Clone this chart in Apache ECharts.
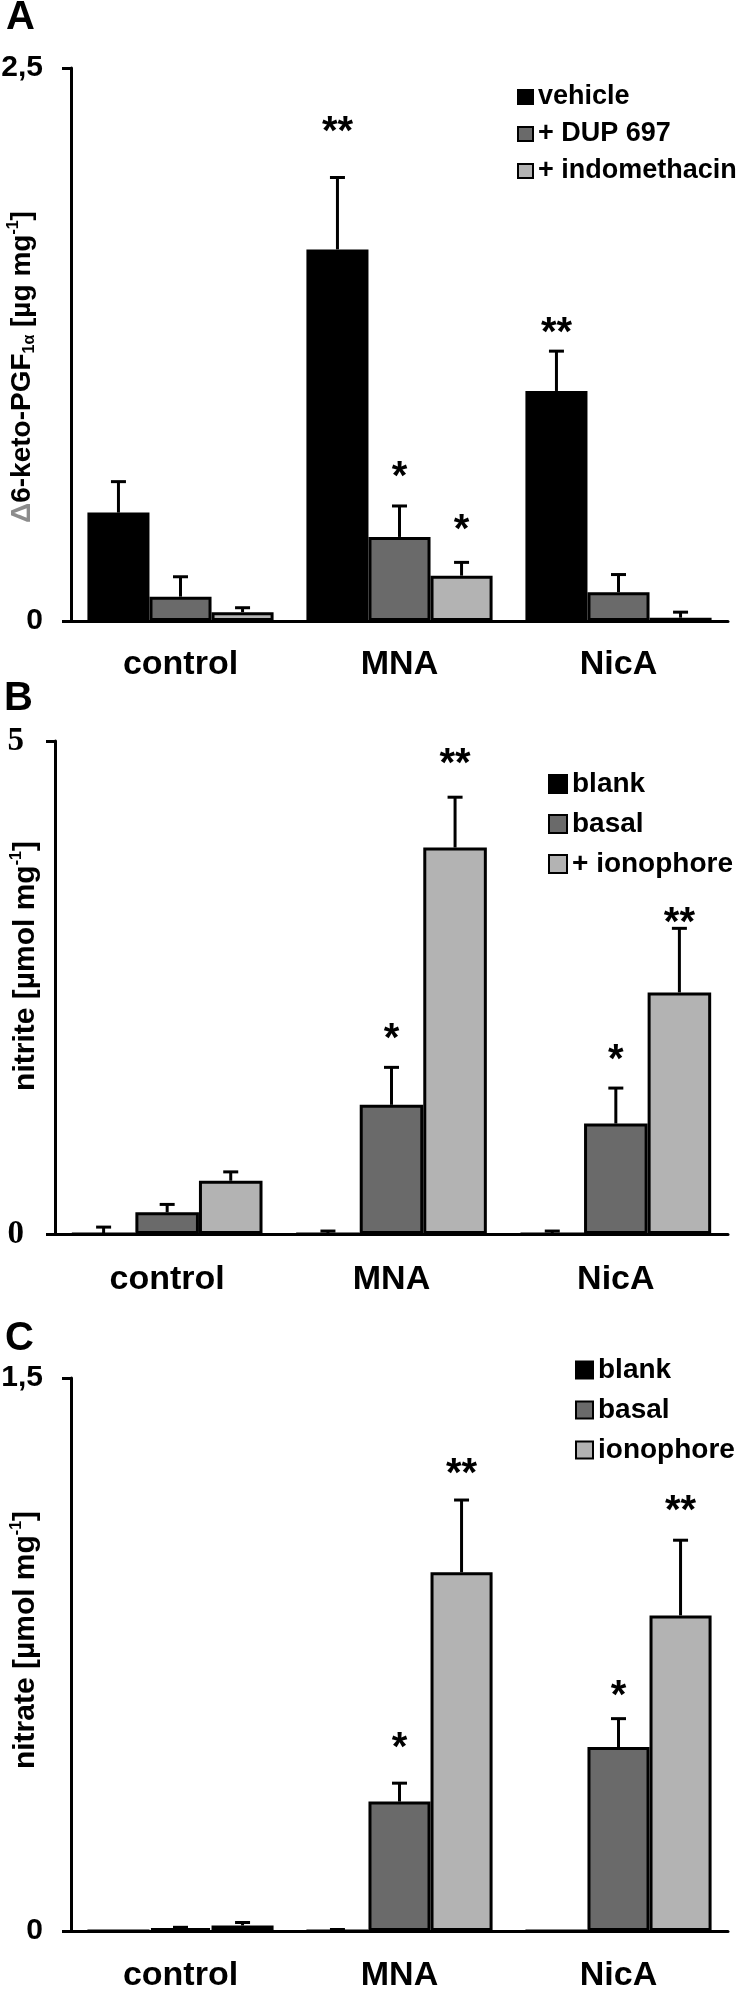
<!DOCTYPE html>
<html><head><meta charset="utf-8">
<script src="https://cdn.jsdelivr.net/npm/echarts@6/dist/echarts.min.js"></script>
<style>html,body{margin:0;padding:0;background:#fff}#c{width:752px;height:1992px}</style>
</head><body><div id="c"></div>
<script>
const categories = ['control', 'MNA', 'NicA'];

// Panel A: 6-keto-PGF1a
const aNames = ['vehicle', '+ DUP 697', '+ indomethacin'];
const aVehicle = [0.49, 1.68, 1.04];
const aVehicleErr = [0.14, 0.325, 0.18];
const aDup = [0.11, 0.38, 0.13];
const aDupErr = [0.09, 0.14, 0.08];
const aIndo = [0.04, 0.205, 0.015];
const aIndoErr = [0.02, 0.06, 0.025];
const aVehicleSig = ['', '**', '**'];
const aVehicleSigY = [0, 2.24, 1.33];
const aDupSig = ['', '*', ''];
const aDupSigY = [0, 0.68, 0];
const aIndoSig = ['', '*', ''];
const aIndoSigY = [0, 0.44, 0];
const aTicks = [0, 2.5];

// Panel B: nitrite
const bNames = ['blank', 'basal', '+ ionophore'];
const bBlank = [0, 0, 0];
const bBlankErr = [0.07, 0.03, 0.03];
const bBasal = [0.22, 1.31, 1.12];
const bBasalErr = [0.08, 0.38, 0.36];
const bIono = [0.54, 3.92, 2.45];
const bIonoErr = [0.09, 0.51, 0.65];
const bBasalSig = ['', '*', '*'];
const bBasalSigY = [0, 2.04, 1.83];
const bIonoSig = ['', '**', '**'];
const bIonoSigY = [0, 4.83, 3.22];
const bTicks = [0, 5];

// Panel C: nitrate
const cNames = ['blank', 'basal', 'ionophore'];
const cBlank = [0, 0, 0];
const cBlankErr = [0, 0.004, 0];
const cBasal = [0.008, 0.351, 0.499];
const cBasalErr = [0.002, 0.05, 0.077];
const cIono = [0.015, 0.973, 0.856];
const cIonoErr = [0.008, 0.196, 0.204];
const cBasalSig = ['', '*', '*'];
const cBasalSigY = [0, 0.512, 0.655];
const cIonoSig = ['', '**', '**'];
const cIonoSigY = [0, 1.255, 1.155];
const cTicks = [0, 1.5];

const BLACK = '#000000', DARK = '#6a6a6a', LIGHT = '#b3b3b3';
const GAP = 0.15;
const SANS = '"Liberation Sans", Arial, sans-serif';
const SERIF = '"Liberation Serif", "Times New Roman", serif';

function bar(name, data, color, ax) {
  return {
    type: 'bar', name, data, xAxisIndex: ax, yAxisIndex: ax,
    barGap: '0%', barCategoryGap: (GAP * 100) + '%',
    itemStyle: { color, borderColor: BLACK, borderWidth: 3 },
    emphasis: { disabled: true }, silent: true
  };
}

function err(idx, vals, errs, sigs, sigYs, ax) {
  return {
    type: 'custom', xAxisIndex: ax, yAxisIndex: ax, z: 10, silent: true,
    data: vals.map((v, i) => [i, v, errs[i]]),
    renderItem(params, api) {
      const i = params.dataIndex;
      const catW = api.size([1, 0])[0];
      const bw = catW * (1 - GAP) / 3;
      const cx = api.coord([i, 0])[0] + (idx - 1) * bw;
      const yTop = api.coord([i, vals[i]])[1];
      const yErr = api.coord([i, vals[i] + errs[i]])[1];
      const children = [];
      if (errs[i] > 0) {
        children.push({ type: 'line', shape: { x1: cx, y1: yTop, x2: cx, y2: yErr }, style: { stroke: BLACK, lineWidth: 3 } });
        children.push({ type: 'line', shape: { x1: cx - 7.5, y1: yErr, x2: cx + 7.5, y2: yErr }, style: { stroke: BLACK, lineWidth: 3 } });
      }
      if (sigs && sigs[i]) {
        const ys = api.coord([i, sigYs[i]])[1];
        children.push({ type: 'text', x: cx, y: ys + 7,
          style: { text: sigs[i], fill: BLACK, font: 'bold 40px ' + SANS, align: 'center', verticalAlign: 'middle' } });
      }
      return { type: 'group', children };
    }
  };
}

function xAxis(idx, margin) {
  return {
    type: 'category', gridIndex: idx, data: categories,
    axisLine: { lineStyle: { color: BLACK, width: 3 } },
    axisTick: { length: 10, lineStyle: { color: BLACK, width: 3 } },
    axisLabel: { color: BLACK, fontSize: 34, fontWeight: 'bold', fontFamily: SANS, margin }
  };
}
function yAxis(idx, ticks, family, size, margin) {
  return {
    type: 'value', gridIndex: idx, min: ticks[0], max: ticks[1], interval: ticks[1] - ticks[0],
    splitLine: { show: false },
    axisLine: { show: true, lineStyle: { color: BLACK, width: 3 } },
    axisTick: { show: true, length: 9, lineStyle: { color: BLACK, width: 3 } },
    axisLabel: { color: BLACK, fontSize: size, fontWeight: 'bold', fontFamily: family, margin,
      formatter: v => String(v).replace('.', ',') }
  };
}
function legend(names, left, top, icon, gap, size) {
  return {
    data: names, orient: 'vertical', left, top, icon: 'rect', itemWidth: icon, itemHeight: icon - (icon === 15 ? 1 : 0),
    itemGap: gap, selectedMode: false,
    textStyle: { color: BLACK, fontSize: size, fontWeight: 'bold', fontFamily: SANS, lineHeight: 30 }
  };
}

function titleRich(size) {
  return {
    d: { fontSize: size, fontWeight: 'bold', fontFamily: SANS, fill: '#8c8c8c', color: '#8c8c8c', lineHeight: size + 4 },
    n: { fontSize: size, fontWeight: 'bold', fontFamily: SANS, fill: BLACK, color: BLACK, lineHeight: size + 4 },
    sub: { fontSize: 16, fontWeight: 'bold', fontFamily: SANS, fill: BLACK, color: BLACK, verticalAlign: 'bottom', lineHeight: 18 },
    sup: { fontSize: 16, fontWeight: 'bold', fontFamily: SANS, fill: BLACK, color: BLACK, verticalAlign: 'top', lineHeight: 18 }
  };
}
function ytitle(x, y, text, size) {
  return { type: 'text', x, y, rotation: Math.PI / 2,
    style: { text, rich: titleRich(size), align: 'center', verticalAlign: 'middle', fill: BLACK } };
}
function letter(x, y, t) {
  return { type: 'text', x, y, style: { text: t, font: 'bold 40px ' + SANS, fill: BLACK, align: 'left', verticalAlign: 'middle' } };
}

const chart = echarts.init(document.getElementById('c'), null, { renderer: 'canvas' });
chart.setOption({
  animation: false,
  backgroundColor: '#ffffff',
  grid: [
    { left: 71, right: 24, top: 68, height: 553, containLabel: false, outerBoundsMode: 'none' },
    { left: 55, right: 24, top: 741, height: 493, containLabel: false, outerBoundsMode: 'none' },
    { left: 71, right: 24, top: 1378, height: 553, containLabel: false, outerBoundsMode: 'none' }
  ],
  xAxis: [xAxis(0, 27), xAxis(1, 29), xAxis(2, 28)],
  yAxis: [yAxis(0, aTicks, SANS, 30, 28), yAxis(1, bTicks, SERIF, 33, 31), yAxis(2, cTicks, SANS, 30, 28)],
  legend: [
    legend(aNames, 512, 77, 15, 7, 27),
    legend(bNames, 543, 764, 18, 10, 28),
    legend(cNames, 570, 1350, 17, 10, 28)
  ],
  series: [
    bar(aNames[0], aVehicle, BLACK, 0), bar(aNames[1], aDup, DARK, 0), bar(aNames[2], aIndo, LIGHT, 0),
    err(0, aVehicle, aVehicleErr, aVehicleSig, aVehicleSigY, 0),
    err(1, aDup, aDupErr, aDupSig, aDupSigY, 0),
    err(2, aIndo, aIndoErr, aIndoSig, aIndoSigY, 0),
    bar(bNames[0], bBlank, BLACK, 1), bar(bNames[1], bBasal, DARK, 1), bar(bNames[2], bIono, LIGHT, 1),
    err(0, bBlank, bBlankErr, null, null, 1),
    err(1, bBasal, bBasalErr, bBasalSig, bBasalSigY, 1),
    err(2, bIono, bIonoErr, bIonoSig, bIonoSigY, 1),
    bar(cNames[0], cBlank, BLACK, 2), bar(cNames[1], cBasal, DARK, 2), bar(cNames[2], cIono, LIGHT, 2),
    err(0, cBlank, cBlankErr, null, null, 2),
    err(1, cBasal, cBasalErr, cBasalSig, cBasalSigY, 2),
    err(2, cIono, cIonoErr, cIonoSig, cIonoSigY, 2)
  ],
  graphic: [
    letter(6, 18, 'A'), letter(4, 699, 'B'), letter(5, 1339, 'C'),
    ytitle(22, 367, '{d|\u0394}{n|6-keto-PGF}{sub|1\u03b1}{n| [\u00b5g mg}{sup|-1}{n|]}', 28),
    ytitle(26, 966, '{n|nitrite [\u00b5mol mg}{sup|-1}{n|]}', 30),
    ytitle(26, 1640, '{n|nitrate [\u00b5mol mg}{sup|-1}{n|]}', 30)
  ]
});
</script></body></html>
